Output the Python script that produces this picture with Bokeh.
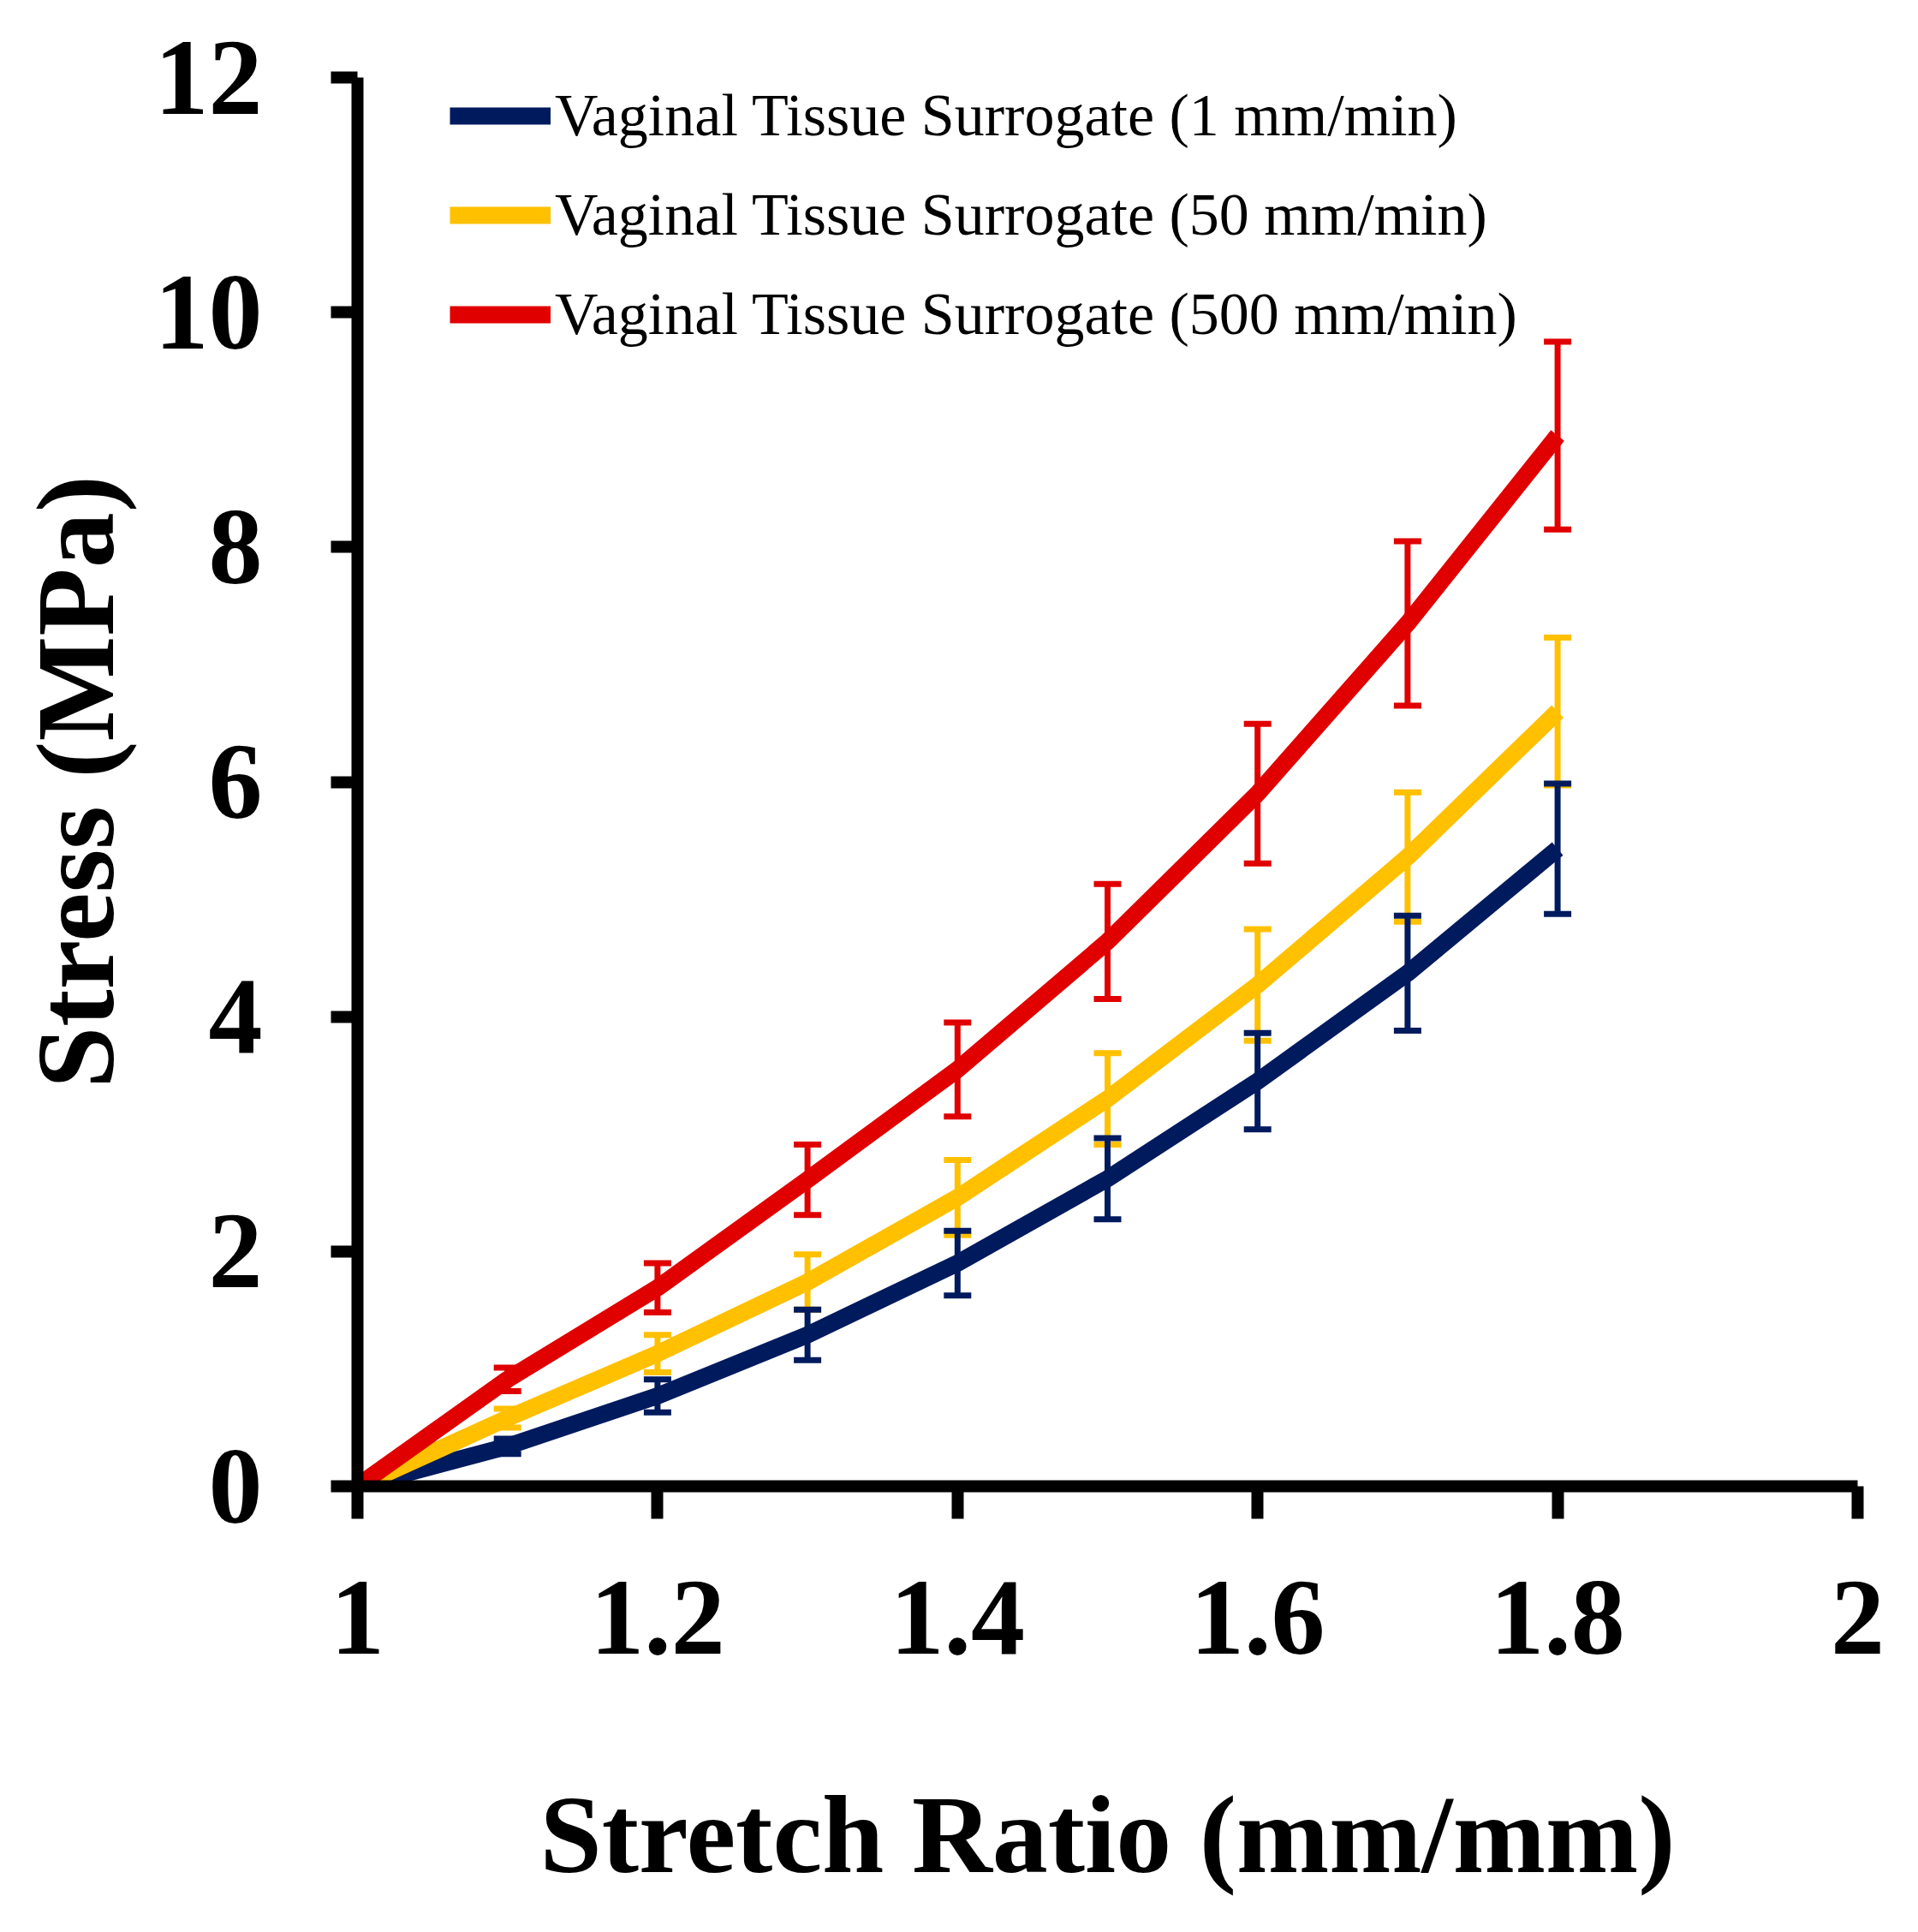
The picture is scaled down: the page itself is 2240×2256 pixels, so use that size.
from bokeh.plotting import figure
from bokeh.models import (ColumnDataSource, Whisker, TeeHead, Range1d, FixedTicker,
                          NumeralTickFormatter)
from bokeh.embed import file_html
from bokeh.resources import INLINE

# ---- data ----
stretch = [1.0, 1.1, 1.2, 1.3, 1.4, 1.5, 1.6, 1.7, 1.8]

stress_1 = [0.0, 0.34, 0.77, 1.29, 1.90, 2.62, 3.45, 4.37, 5.43]
err_1 = [0.0, 0.065, 0.14, 0.215, 0.275, 0.345, 0.41, 0.49, 0.555]

stress_50 = [0.0, 0.58, 1.13, 1.74, 2.46, 3.30, 4.27, 5.36, 6.60]
err_50 = [0.0, 0.08, 0.16, 0.235, 0.32, 0.39, 0.475, 0.55, 0.63]

stress_500 = [0.0, 0.91, 1.69, 2.61, 3.55, 4.64, 5.90, 7.35, 8.95]
err_500 = [0.0, 0.10, 0.21, 0.30, 0.40, 0.49, 0.595, 0.70, 0.80]

labels = ["Vaginal Tissue Surrogate (1 mm/min)",
          "Vaginal Tissue Surrogate (50 mm/min)",
          "Vaginal Tissue Surrogate (500 mm/min)"]
colors = ["#001A5E", "#FFC000", "#E00000"]

x_ticks = [1, 1.2, 1.4, 1.6, 1.8, 2]
y_ticks = [0, 2, 4, 6, 8, 10, 12]

x_title = "Stretch Ratio (mm/mm)"
y_title = "Stress (MPa)"

SERIF = "Liberation Serif"

p = figure(width=2224, height=2240, output_backend="svg", toolbar_location=None,
           x_range=Range1d(1, 2), y_range=Range1d(0, 12),
           min_border_left=417, min_border_right=55,
           min_border_top=90, min_border_bottom=505)

p.background_fill_color = "white"
p.border_fill_color = "white"
p.outline_line_color = None
p.xgrid.visible = False
p.ygrid.visible = False

series = [(stress_1, err_1), (stress_50, err_50), (stress_500, err_500)]

for (vals, errs), lab, col in zip(series, labels, colors):
    src = ColumnDataSource(dict(x=stretch, y=vals))
    p.line("x", "y", source=src, line_color=col, line_width=20,
           line_join="round", line_cap="butt", legend_label=lab)

for (vals, errs), col in zip(reversed(series), reversed(colors)):
    xs = stretch[1:]
    up = [v + e for v, e in zip(vals[1:], errs[1:])]
    lo = [v - e for v, e in zip(vals[1:], errs[1:])]
    esrc = ColumnDataSource(dict(base=xs, upper=up, lower=lo))
    w = Whisker(base="base", upper="upper", lower="lower", source=esrc,
                line_color=col, line_width=7,
                upper_head=TeeHead(size=32, line_color=col, line_width=7),
                lower_head=TeeHead(size=32, line_color=col, line_width=7))
    p.add_layout(w)

# ---- axes ----
for ax in (p.xaxis[0], p.yaxis[0]):
    ax.axis_line_width = 14
    ax.axis_line_color = "black"
    ax.major_tick_line_width = 14
    ax.major_tick_line_color = "black"
    ax.major_tick_in = 0
    ax.minor_tick_line_color = None
    ax.major_label_text_font = SERIF
    ax.major_label_text_font_style = "bold"
    ax.major_label_text_font_size = "126px"
    ax.major_label_text_color = "black"
    ax.axis_label_text_font = SERIF
    ax.axis_label_text_font_style = "bold"
    ax.axis_label_text_font_size = "130px"
    ax.axis_label_text_color = "black"

p.xaxis.ticker = FixedTicker(ticks=x_ticks)
p.yaxis.ticker = FixedTicker(ticks=y_ticks)
p.xaxis.formatter = NumeralTickFormatter(format="0.[0]")
p.yaxis.formatter = NumeralTickFormatter(format="0")
p.xaxis.major_tick_out = 38
p.yaxis.major_tick_out = 31
p.xaxis.major_label_standoff = 73
p.yaxis.major_label_standoff = 80
p.xaxis.axis_label = x_title
p.yaxis.axis_label = y_title
p.xaxis.axis_label_standoff = 136
p.yaxis.axis_label_standoff = 18

# ---- legend ----
lg = p.legend[0]
lg.location = (108, 1328)
lg.border_line_color = None
lg.background_fill_alpha = 0
lg.padding = 0
lg.margin = 0
lg.spacing = 36
lg.label_height = 76
lg.glyph_height = 76
lg.glyph_width = 118
lg.label_standoff = 5
lg.label_text_font = SERIF
lg.label_text_font_size = "70px"
lg.label_text_color = "black"

open("out.html", "w").write(file_html(p, INLINE))
